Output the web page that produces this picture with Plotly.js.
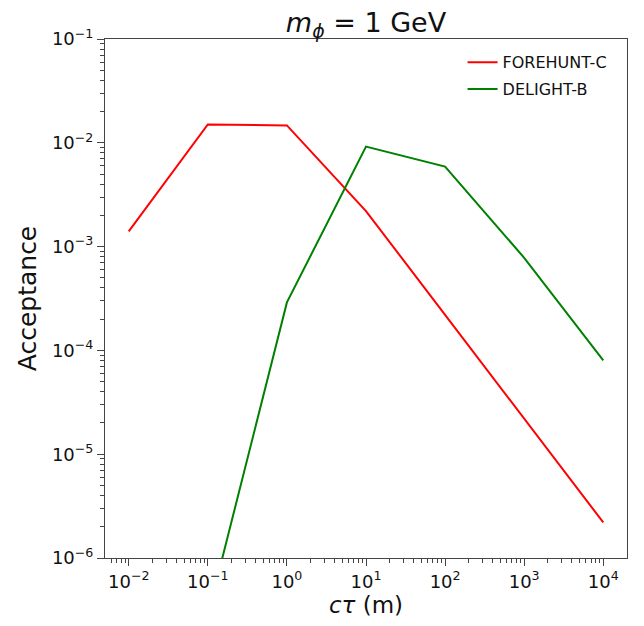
<!DOCTYPE html>
<html>
<head>
<meta charset="utf-8">
<script src="https://cdn.plot.ly/plotly-3.0.1.min.js"></script>
<style>html,body{margin:0;padding:0;background:#fff;}</style>
</head>
<body>
<div id="chart" style="width:644px;height:626px;"></div>
<script>
const ctau = [0.01, 0.1, 1, 10, 100, 1000, 10000];
const foreHuntC = [1.4e-3, 1.5e-2, 1.47e-2, 2.2e-3, 2.2e-4, 2.2e-5, 2.2e-6];
const delightB = [null, 2.8e-7, 2.9e-4, 9.2e-3, 5.9e-3, 7.8e-4, 8.0e-5];
const xTickVals = [0.01, 0.1, 1, 10, 100, 1000, 10000];
const xTickText = ['10<sup>−2</sup>','10<sup>−1</sup>','10<sup>0</sup>','10<sup>1</sup>','10<sup>2</sup>','10<sup>3</sup>','10<sup>4</sup>'];
const yTickVals = [1e-6, 1e-5, 1e-4, 1e-3, 1e-2, 1e-1];
const yTickText = ['10<sup>−6</sup>','10<sup>−5</sup>','10<sup>−4</sup>','10<sup>−3</sup>','10<sup>−2</sup>','10<sup>−1</sup>'];

function minorVals(lo, hi) {
  const out = [];
  for (let e = lo; e <= hi; e++) for (let m = 2; m <= 9; m++) out.push(m * Math.pow(10, e));
  return out;
}

const font = 'DejaVu Sans, sans-serif';
const traces = [
  {x: ctau, y: foreHuntC, mode: 'lines', name: 'FOREHUNT-C', legendgroup: 'a', line: {color: '#ff0000', width: 2}},
  {x: ctau, y: delightB, mode: 'lines', name: 'DELIGHT-B', legendgroup: 'b', line: {color: '#008000', width: 2}, connectgaps: false}
];
const axisCommon = {
  type: 'log', showgrid: false, zeroline: false, showline: true, mirror: true,
  linecolor: '#444', linewidth: 1, ticks: 'outside', ticklen: 7, tickwidth: 1, tickcolor: '#444',
  tickfont: {family: font, size: 18, color: '#111'}
};
const layout = {
  width: 644, height: 626,
  margin: {l: 105, r: 17, t: 39, b: 68},
  paper_bgcolor: '#fff', plot_bgcolor: '#fff',
  font: {family: font, color: '#111'},
  title: {text: '<i>m</i><sub><i>ϕ</i></sub> = 1 GeV', font: {family: font, size: 27, color: '#111'},
          x: 0.5, xref: 'paper', y: 1, yref: 'paper', yanchor: 'bottom', pad: {b: 7}},
  xaxis: Object.assign({}, axisCommon, {
    range: [-2.3, 4.3], tickmode: 'array', tickvals: xTickVals, ticktext: xTickText,
    minor: {tickmode: 'array', tickvals: minorVals(-3, 4), ticks: 'outside', ticklen: 4, tickwidth: 1, tickcolor: '#444', showgrid: false},
    title: {text: '<i>cτ</i> (m)', font: {family: font, size: 23, color: '#111'}, standoff: 6}
  }),
  yaxis: Object.assign({}, axisCommon, {
    range: [-6, -1], tickmode: 'array', tickvals: yTickVals, ticktext: yTickText,
    minor: {tickmode: 'array', tickvals: minorVals(-6, -2), ticks: 'outside', ticklen: 4, tickwidth: 1, tickcolor: '#444', showgrid: false},
    title: {text: 'Acceptance', font: {family: font, size: 25, color: '#111'}, standoff: 8}
  }),
  legend: {x: 0.685, xanchor: 'left', y: 0.988, yanchor: 'top', bgcolor: 'rgba(0,0,0,0)',
           font: {family: font, size: 16, color: '#111'}, tracegroupgap: 3, itemwidth: 30},
  showlegend: true
};
Plotly.newPlot('chart', traces, layout, {displayModeBar: false, staticPlot: true});
</script>
</body>
</html>
